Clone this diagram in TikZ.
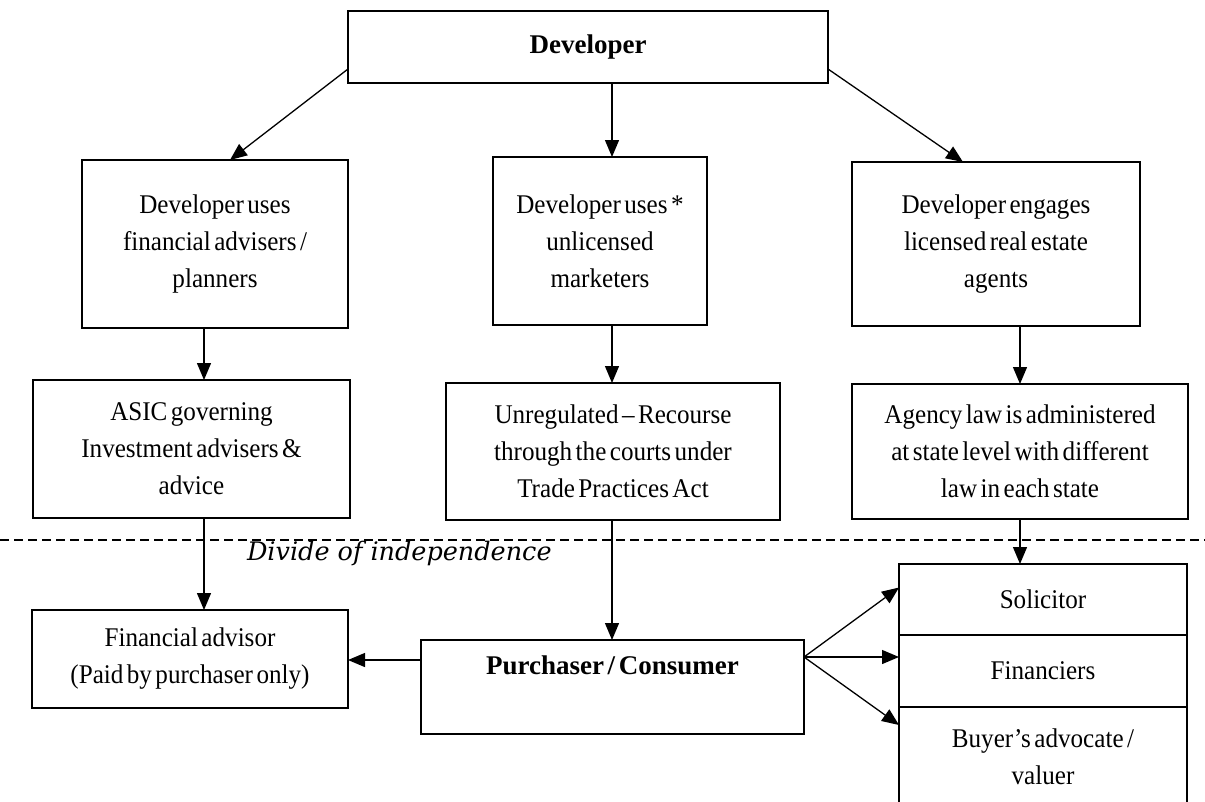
\documentclass[tikz,border=0pt]{standalone}
\usepackage{fontspec}
\setmainfont{Liberation Serif}[FakeStretch=0.93, WordSpace=0.55]
\newfontfamily\headfont{Liberation Serif}[WordSpace=0.55]
\newfontfamily\dividefont{DejaVu Serif}
\usetikzlibrary{arrows.meta,calc}

\begin{document}
\begin{tikzpicture}[x=1pt, y=-1pt,
  every node/.style={inner sep=0pt, outer sep=0pt},
  txt/.style={align=center, font=\fontsize{27}{37}\selectfont},
  box/.style={txt, draw, line width=1.7pt},
  arr/.style={line width=1.3pt, -{Triangle[length=17pt,width=14pt]}},
  divider/.style={line width=1.6pt, dash pattern=on 9pt off 5pt},
]
\clip (0,0) rectangle (1205,801);
\fill[white] (0,0) rectangle (1205,801);

% column guides for the vertical connectors
\coordinate (colL) at (204,0);
\coordinate (colM) at (612,0);
\coordinate (colR) at (1020,0);

% top
\node[box, minimum width=480pt, minimum height=72pt] (dev) at (588,47)
  {{\headfont\bfseries Developer}};

% first row
\node[box, minimum width=266pt, minimum height=168pt] (a1) at (215,244)
  {Developer uses\\financial advisers /\\planners};
\node[box, minimum width=214pt, minimum height=168pt] (a2) at (600,241)
  {Developer uses *\\unlicensed\\marketers};
\node[box, minimum width=288pt, minimum height=164pt] (a3) at (996,244)
  {Developer engages\\licensed real estate\\agents};

% second row
\node[box, minimum width=317pt, minimum height=138pt] (b1) at (191.5,449)
  {ASIC governing\\Investment advisers \&\\advice};
\node[box, minimum width=334pt, minimum height=137pt] (b2) at (613,451.5)
  {Unregulated – Recourse\\through the courts under\\Trade Practices Act};
\node[box, minimum width=336pt, minimum height=135pt] (b3) at (1020,451.5)
  {Agency law is administered\\at state level with different\\law in each state};

% divide line
\coordinate (divL) at (0,540);
\coordinate (divR) at (1205,540);
\draw[divider] (divL) -- (divR);
\node[anchor=base west, font=\dividefont\itshape\fontsize{25.5}{30}\selectfont] (divtext) at (247,560)
  {Divide of independence};

% bottom row
\node[box, minimum width=316pt, minimum height=98pt] (fa) at (190,659)
  {Financial advisor\\(Paid by purchaser only)};
\node[box, minimum width=383pt, minimum height=94pt] (pc) at (612.5,687) {};
\node[txt] (pctext) at ($(pc.north)+(0,25)$) {{\headfont\bfseries Purchaser / Consumer}};

\node[box, minimum width=288pt, minimum height=71pt] (s1) at (1043,599.5) {Solicitor};
\node[box, minimum width=288pt, minimum height=72pt] (s2) at (1043,671) {Financiers};
\node[box, minimum width=288pt, minimum height=100pt] (s3) at (1043,757)
  {Buyer’s advocate /\\valuer};

% connectors from the developer
\draw[arr] ($(dev.south west)+(0,-14)$) -- ($(a1.north)+(15,0)$);
\draw[arr] (dev.south -| colM) -- (a2.north -| colM);
\draw[arr] ($(dev.south east)+(0,-14)$) -- ($(a3.north)+(-33,0)$);

% vertical chains
\draw[arr] (a1.south -| colL) -- (b1.north -| colL);
\draw[arr] (b1.south -| colL) -- (fa.north -| colL);
\draw[arr] (a2.south -| colM) -- (b2.north -| colM);
\draw[arr] (b2.south -| colM) -- (pc.north -| colM);
\draw[arr] (a3.south -| colR) -- (b3.north -| colR);
\draw[arr] (b3.south -| colR) -- (s1.north -| colR);

% purchaser connectors
\coordinate (pcl) at ($(pc.west)+(0,-27)$);
\draw[arr] (pcl) -- (pcl -| fa.east);
\coordinate (pcr) at ($(pc.east)+(0,-30)$);
\draw[arr] (pcr) -- ($(s1.west)+(0,-12)$);
\draw[arr] (pcr) -- ($(s2.west)+(0,-14)$);
\draw[arr] (pcr) -- ($(s3.west)+(0,-32)$);
\end{tikzpicture}
\end{document}
